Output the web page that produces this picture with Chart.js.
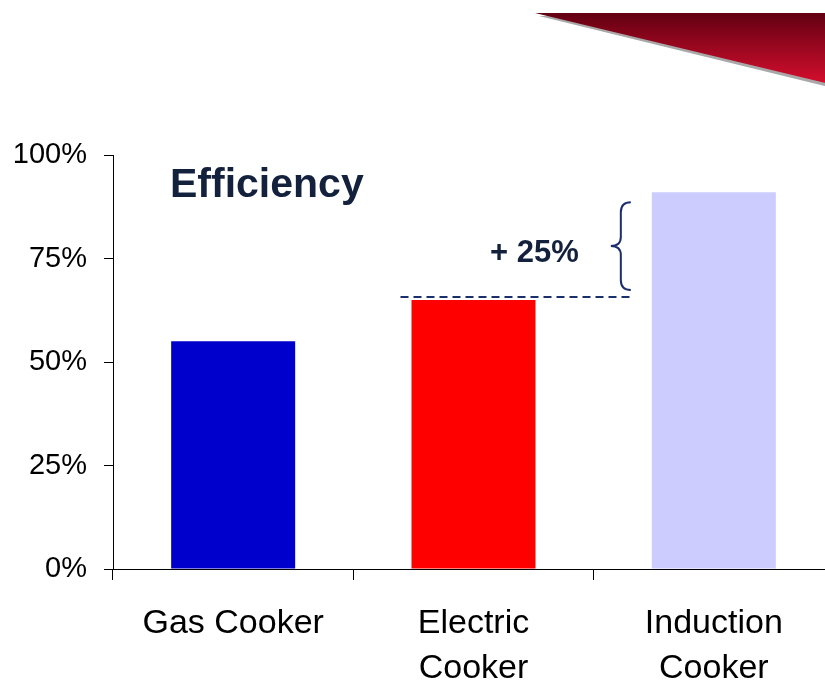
<!DOCTYPE html>
<html>
    <head>
        <title>Cooker Efficiency</title>
        <meta charset="utf-8">
        <script src="https://cdn.jsdelivr.net/npm/chart.js@4.4.1/dist/chart.umd.min.js"></script>
        <style>
            html, body { margin: 0; padding: 0; background: #fff; overflow: hidden; }
            #wrap { position: relative; width: 825px; height: 683px; overflow: hidden; }
            #myChart { position: absolute; left: 0; top: 0; }
        </style>
    </head>
    <body>
        <div id="wrap">
            <canvas id="myChart" width="840" height="683"></canvas>
        </div>
        <script>
            // data
            var categories = [['Gas Cooker'], ['Electric', 'Cooker'], ['Induction', 'Cooker']];
            var efficiency = [55, 65, 91];
            var barColors = ['#0000cc', '#ff0000', '#ccccff'];
            var yTickValues = [0, 25, 50, 75, 100];
            var chartTitle = 'Efficiency';
            var gainLabel = '+ 25%';

            var FONT = "'Liberation Sans', Arial, sans-serif";
            var NAVY = '#14213d';

            // red banner in the top right corner + the annotations on top of the bars
            var decorPlugin = {
                id: 'decor',
                beforeDraw: function(chart) {
                    var c = chart.ctx;
                    c.save();
                    // grey shadow under the banner
                    c.fillStyle = '#a8a8a8';
                    c.beginPath();
                    c.moveTo(539, 16);
                    c.lineTo(845, 16);
                    c.lineTo(845, 91);
                    c.closePath();
                    c.fill();
                    var g = c.createLinearGradient(0, 13, 0, 88);
                    g.addColorStop(0, '#620012');
                    g.addColorStop(1, '#dc0f2f');
                    c.fillStyle = g;
                    c.beginPath();
                    c.moveTo(535, 13);
                    c.lineTo(840, 13);
                    c.lineTo(840, 86.6);
                    c.closePath();
                    c.fill();
                    c.restore();
                },
                afterDraw: function(chart) {
                    var c = chart.ctx;
                    var y = chart.scales.y;
                    var area = chart.chartArea;
                    var bars = chart.getDatasetMeta(0).data;
                    var elec = bars[1], ind = bars[2];
                    var elecLeft = elec.x - elec.width / 2;
                    var indLeft = ind.x - ind.width / 2;
                    var yLow = y.getPixelForValue(efficiency[1]);
                    var yHigh = y.getPixelForValue(efficiency[2]);

                    c.save();
                    // title inside the plot
                    c.fillStyle = NAVY;
                    c.font = 'bold 41px ' + FONT;
                    c.textBaseline = 'alphabetic';
                    c.textAlign = 'left';
                    c.fillText(chartTitle, area.left + 57, 197);

                    // dashed level of the electric cooker
                    c.strokeStyle = '#1a2f6b';
                    c.lineWidth = 2;
                    c.setLineDash([8, 5]);
                    c.beginPath();
                    c.moveTo(elecLeft - 11, yLow - 3);
                    c.lineTo(indLeft - 21, yLow - 3);
                    c.stroke();
                    c.setLineDash([]);

                    // curly brace between the two levels
                    var bx = indLeft - 21, vx = bx - 10, tx = bx - 20;
                    var top = yHigh + 10, bot = yLow - 10, mid = (top + bot) / 2;
                    c.beginPath();
                    c.moveTo(bx, top);
                    c.quadraticCurveTo(vx, top, vx, top + 10);
                    c.lineTo(vx, mid - 9);
                    c.quadraticCurveTo(vx, mid, tx, mid);
                    c.quadraticCurveTo(vx, mid, vx, mid + 9);
                    c.lineTo(vx, bot - 10);
                    c.quadraticCurveTo(vx, bot, bx, bot);
                    c.stroke();

                    // gain label next to the brace
                    c.fillStyle = NAVY;
                    c.font = 'bold 31px ' + FONT;
                    c.textAlign = 'right';
                    c.fillText(gainLabel, tx - 32, mid + 16);
                    c.restore();
                }
            };

            var ctx = document.getElementById('myChart').getContext('2d');
            var chart = new Chart(ctx, {
                type: 'bar',
                data: {
                    labels: categories,
                    datasets: [{
                        data: efficiency,
                        backgroundColor: barColors,
                        borderWidth: 0,
                        categoryPercentage: 1,
                        barPercentage: 0.516
                    }]
                },
                options: {
                    responsive: false,
                    animation: false,
                    layout: { padding: { top: 155, right: 6, left: 0, bottom: 0 } },
                    plugins: {
                        legend: { display: false },
                        tooltip: { enabled: false }
                    },
                    scales: {
                        x: {
                            grid: { offset: true, drawOnChartArea: false, tickLength: 11, color: '#000', lineWidth: 1 },
                            border: { color: '#000', width: 1 },
                            ticks: {
                                color: '#000',
                                font: { family: FONT, size: 34, lineHeight: 1.32 },
                                padding: 21,
                                maxRotation: 0,
                                autoSkip: false
                            },
                            afterFit: function(scale) { scale.height = 114; }
                        },
                        y: {
                            min: 0,
                            max: 100,
                            afterBuildTicks: function(scale) {
                                scale.ticks = yTickValues.map(function(v) { return { value: v }; });
                            },
                            grid: { drawOnChartArea: false, tickLength: 9, color: '#000', lineWidth: 1 },
                            border: { color: '#000', width: 1 },
                            ticks: {
                                color: '#000',
                                font: { family: FONT, size: 29 },
                                padding: 17,
                                callback: function(v) { return v + '%'; }
                            },
                            afterFit: function(scale) { scale.width = 113; }
                        }
                    }
                },
                plugins: [decorPlugin]
            });
        </script>
    </body>
</html>
